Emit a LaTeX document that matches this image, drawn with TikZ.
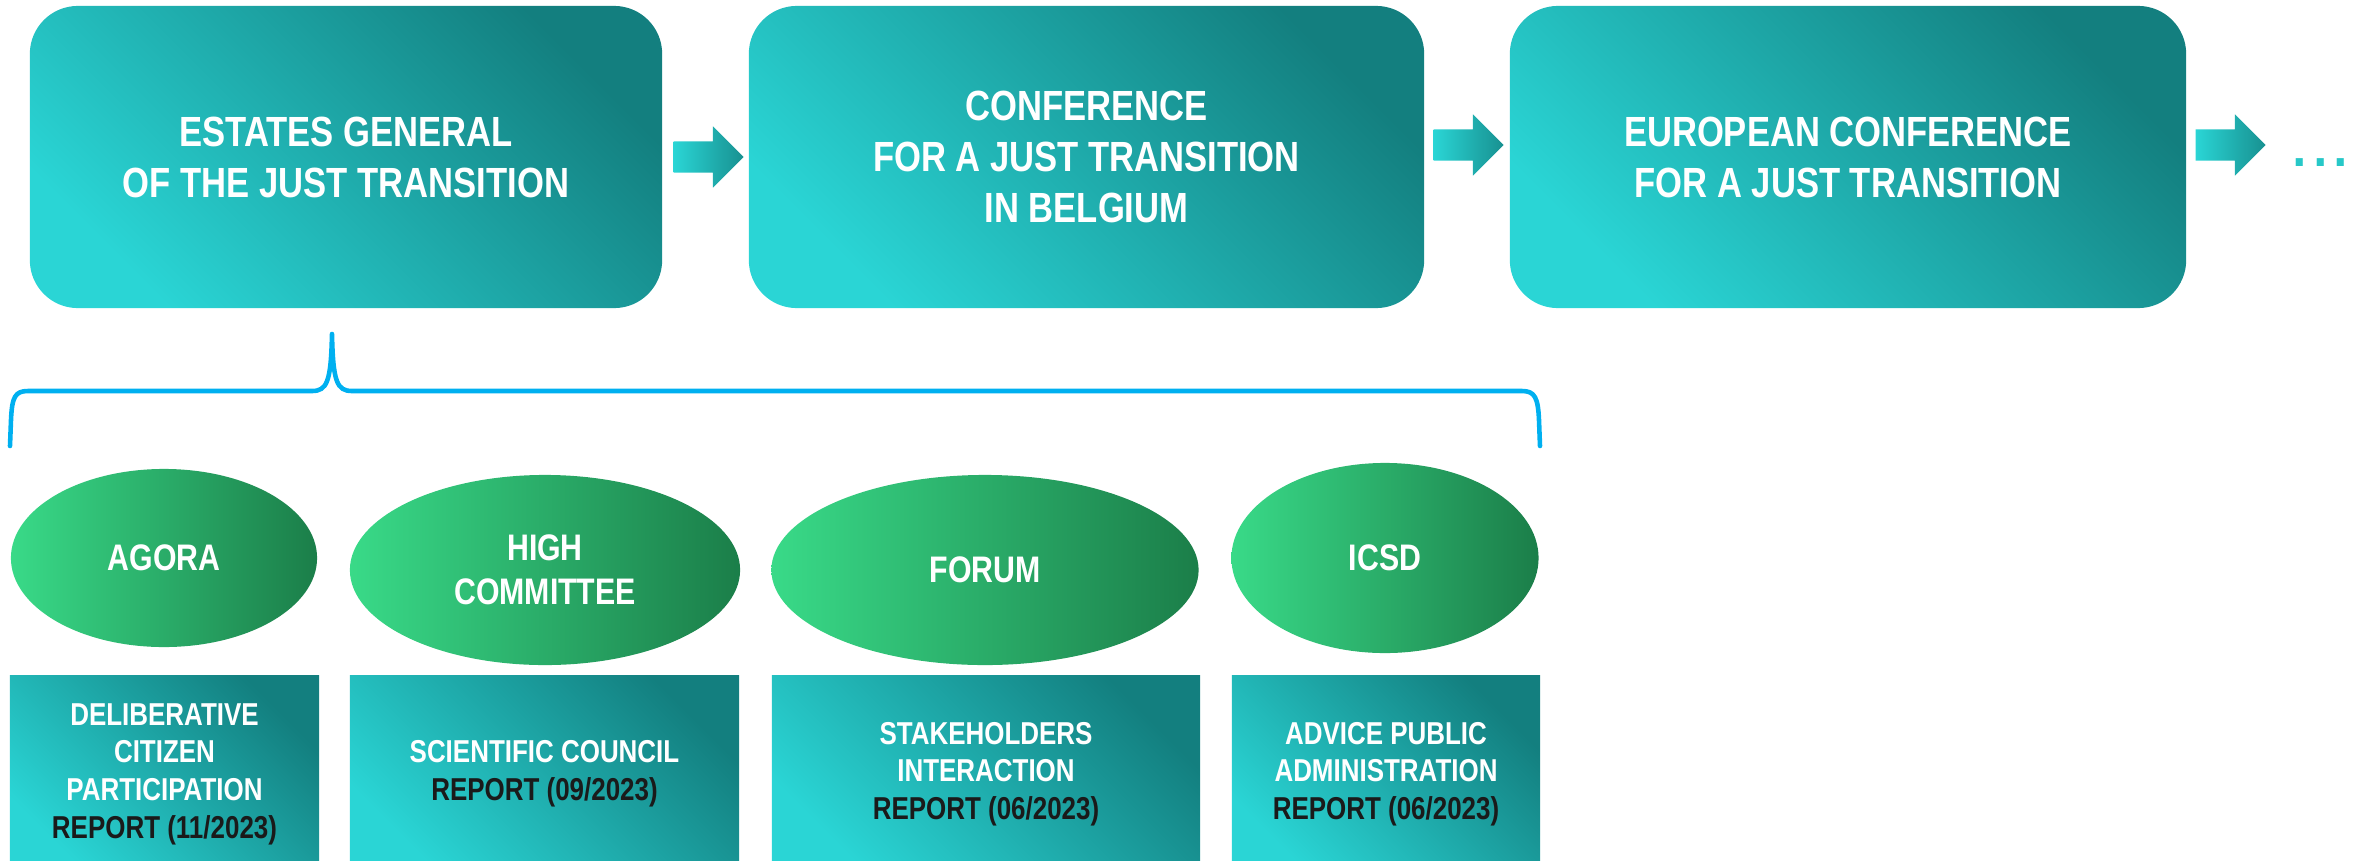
\documentclass[tikz,border=0pt]{standalone}
\usepackage{fontspec}
\usepackage{tikz}
\usetikzlibrary{shapes.geometric}
\usetikzlibrary{shapes.arrows}
\usetikzlibrary{positioning}
\newfontfamily\narrowsans[FakeStretch=0.82]{Liberation Sans}
\newfontfamily\plainsans{Liberation Sans}
\definecolor{tealL}{HTML}{2AD5D5}
\definecolor{tealD}{HTML}{137F7F}
\definecolor{greenL}{HTML}{39DA88}
\definecolor{greenD}{HTML}{1B7E49}
\definecolor{bracecol}{HTML}{00B0F0}
\definecolor{reportink}{HTML}{1A1A1A}
\tikzset{stage/.style={rectangle, rounded corners=0.48cm, minimum height=3.02cm, inner sep=0pt,
    left color=tealL, right color=tealD, shading angle=135, text=white, align=center,
    font=\narrowsans\bfseries\fontsize{12}{14.5}\selectfont}}
\tikzset{body/.style={ellipse, inner sep=0pt, left color=greenL, right color=greenD,
    text=white, align=center, font=\narrowsans\bfseries\fontsize{10.5}{12.5}\selectfont}}
\tikzset{report/.style={rectangle, inner sep=0pt, minimum height=1.96cm,
    left color=tealL, right color=tealD, shading angle=135, text=white, align=center,
    font=\narrowsans\bfseries\fontsize{9}{10.7}\selectfont}}
\tikzset{flow/.style={single arrow, single arrow head extend=0.15cm, single arrow head indent=0pt,
    inner xsep=0pt, inner ysep=0.15cm, minimum height=0.7cm,
    left color=tealL, right color=tealD!80!tealL}}
\tikzset{groupline/.style={draw=bracecol, line width=1.3pt, line cap=round, line join=round}}
\newcommand{\rep}[1]{\textcolor{reportink}{REPORT (#1)}}

\begin{document}
\begin{tikzpicture}[x=0.01cm, y=-0.01cm]
    \useasboundingbox (0,0) rectangle (2356,860);
    \clip (0,0) rectangle (2356,860);

    \node[stage, minimum width=6.32cm] (egj) at (346,157) {ESTATES GENERAL\\OF THE JUST TRANSITION};
    \node[stage, minimum width=6.75cm] (cjt) at (1086.5,157) {CONFERENCE\\FOR A JUST TRANSITION\\IN BELGIUM};
    \node[stage, minimum width=6.76cm] (ecj) at (1848,157) {EUROPEAN CONFERENCE\\FOR A JUST TRANSITION};

    \node[flow, right=0.1cm of egj] (f1) {};
    \node[flow, right=0.08cm of cjt, yshift=0.12cm] (f2) {};
    \node[flow, right=0.08cm of ecj, yshift=0.12cm] (f3) {};
    \node[text=tealL!85!tealD, font=\plainsans\fontsize{21}{24}\selectfont,
        anchor=base west, inner sep=0pt] (more) at (2289,166) {...};

    % bracket under the estates general
    \draw[groupline] (10,446) -- (11,420) .. controls (12,397) and (15,391) .. (28,391)
        -- (312,391) .. controls (327,391) and (331,382) .. (332,334)
        .. controls (333,382) and (337,391) .. (352,391)
        -- (1522,391) .. controls (1535,391) and (1538,398) .. (1539,420) -- (1540,446);

    \node[body, minimum width=3.06cm, minimum height=1.78cm] (agora) at (164,558) {AGORA};
    \node[body, minimum width=3.90cm, minimum height=1.90cm] (high) at (545,570) {HIGH\\COMMITTEE};
    \node[body, minimum width=4.27cm, minimum height=1.90cm] (forum) at (985,570) {FORUM};
    \node[body, minimum width=3.07cm, minimum height=1.90cm] (icsd) at (1385,558) {ICSD};

    \node[report, minimum width=3.09cm] (delib) at (164.5,774)
        {DELIBERATIVE\\CITIZEN\\PARTICIPATION\\\rep{11/2023}};
    \node[report, minimum width=3.89cm] (sci) at (544.5,774)
        {SCIENTIFIC COUNCIL\\\rep{09/2023}};
    \node[report, minimum width=4.28cm] (stake) at (986,774)
        {STAKEHOLDERS\\INTERACTION\\\rep{06/2023}};
    \node[report, minimum width=3.08cm] (advice) at (1386,774)
        {ADVICE PUBLIC\\ADMINISTRATION\\\rep{06/2023}};
\end{tikzpicture}
\end{document}
